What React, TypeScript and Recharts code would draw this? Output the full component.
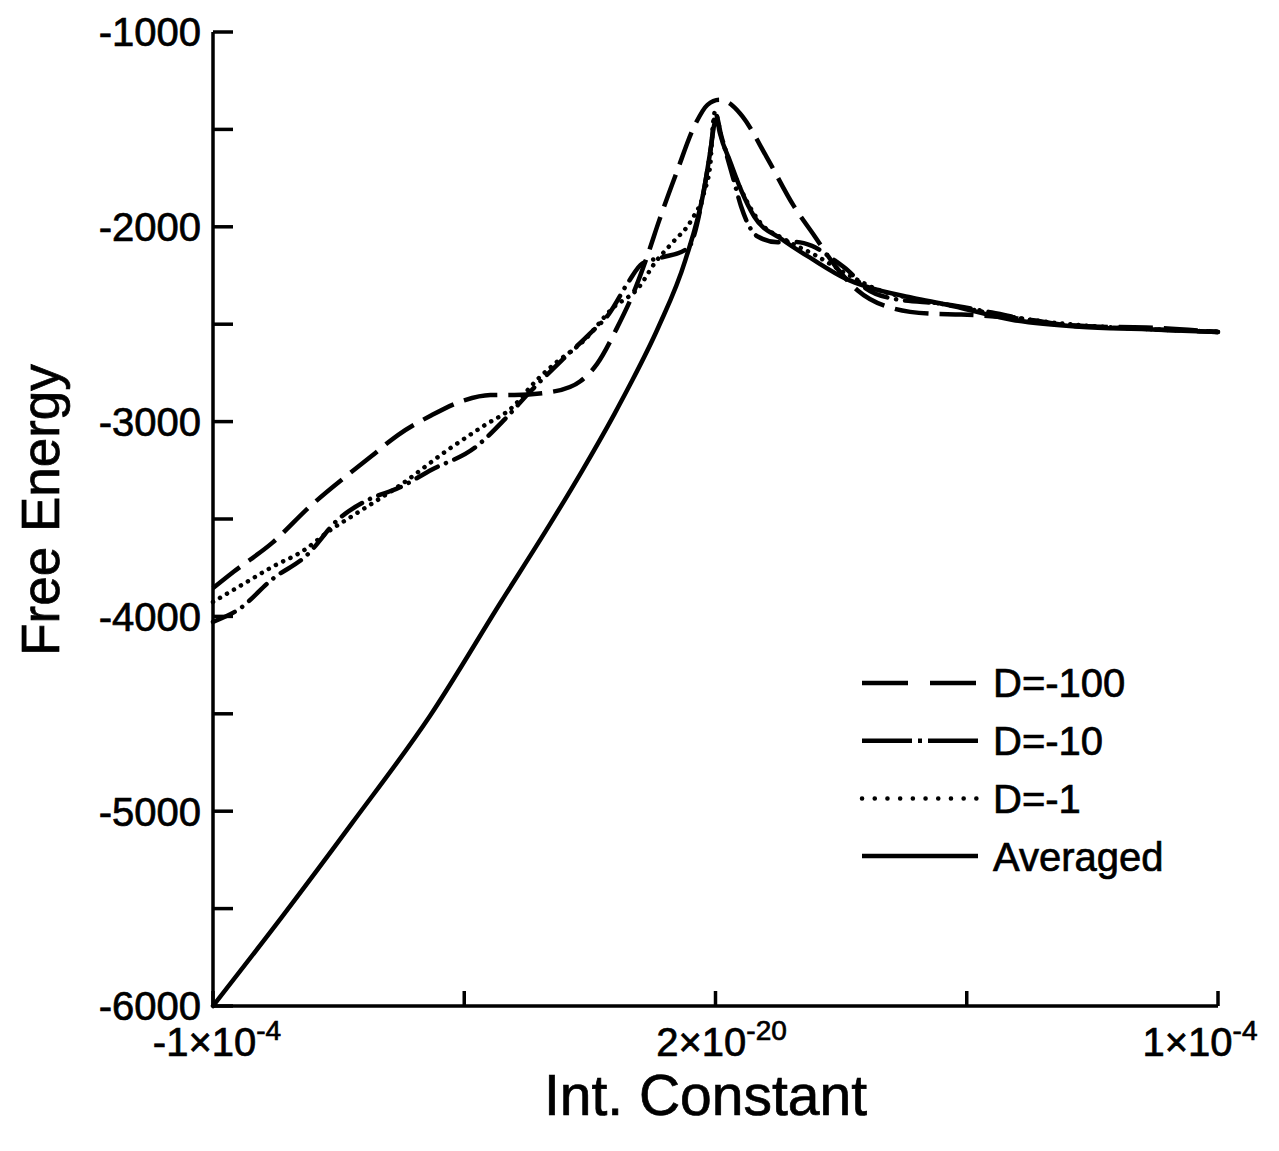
import React from 'react';
import { LineChart, Line, XAxis, YAxis, Legend, Label } from 'recharts';

// x values are in units of 1e-4 (Int. Constant)
const d100X = [-1.0, -0.959, -0.881, -0.808, -0.685, -0.632, -0.567, -0.5, -0.448, -0.4, -0.321, -0.269, -0.236, -0.197, -0.159, -0.134, -0.112, -0.078, -0.039, -0.016, 0.008, 0.034, 0.054, 0.101, 0.156, 0.197, 0.238, 0.283, 0.351, 0.429, 0.489, 0.624, 0.724, 0.857, 1.0];
const d100Y = [-3855, -3771, -3620, -3438, -3178, -3069, -2970, -2891, -2864, -2863, -2845, -2793, -2705, -2524, -2312, -2137, -1967, -1725, -1467, -1374, -1348, -1378, -1434, -1638, -1894, -2047, -2200, -2327, -2417, -2446, -2450, -2477, -2511, -2517, -2540];

const d10X = [-1.0, -0.95, -0.88, -0.815, -0.75, -0.69, -0.63, -0.565, -0.478, -0.419, -0.369, -0.302, -0.251, -0.212, -0.173, -0.146, -0.106, -0.061, -0.05, -0.023, -0.009, 0.0, 0.011, 0.036, 0.051, 0.084, 0.124, 0.158, 0.192, 0.238, 0.264, 0.299, 0.36, 0.45, 0.55, 0.65, 0.75, 0.85, 1.0];
const d10Y = [-4028, -3966, -3805, -3690, -3500, -3400, -3340, -3247, -3132, -2987, -2847, -2676, -2551, -2447, -2282, -2189, -2157, -2120, -2094, -1811, -1590, -1420, -1528, -1758, -1896, -2050, -2079, -2078, -2098, -2174, -2225, -2316, -2372, -2395, -2440, -2490, -2512, -2524, -2540];

const d1X = [-1.0, -0.945, -0.88, -0.821, -0.768, -0.715, -0.63, -0.532, -0.459, -0.408, -0.355, -0.322, -0.263, -0.204, -0.153, -0.12, -0.087, -0.048, -0.023, -0.01, -0.0055, -0.001, 0.011, 0.0356, 0.0605, 0.087, 0.138, 0.198, 0.26, 0.319, 0.393, 0.478, 0.55, 0.65, 0.75, 0.86, 1.0];
const d1Y = [-3926, -3842, -3743, -3664, -3560, -3472, -3331, -3144, -3018, -2935, -2785, -2707, -2587, -2416, -2312, -2183, -2085, -1966, -1826, -1672, -1487, -1410, -1528, -1717, -1860, -1972, -2065, -2145, -2240, -2318, -2370, -2408, -2445, -2485, -2510, -2525, -2538];

const avgX = [-1.0, -0.862, -0.724, -0.568, -0.427, -0.33, -0.266, -0.201, -0.17, -0.114, -0.06, -0.023, -0.009, -0.0016, 0.003, 0.0085, 0.03, 0.0505, 0.077, 0.132, 0.192, 0.259, 0.299, 0.393, 0.459, 0.592, 0.724, 0.857, 1.0];
const avgY = [-6000, -5540, -5064, -4510, -3926, -3529, -3255, -2960, -2810, -2517, -2171, -1811, -1590, -1467, -1455, -1517, -1671, -1809, -1947, -2064, -2165, -2266, -2306, -2365, -2399, -2478, -2513, -2526, -2540];

const xTicks = [-1, -0.5, 0, 0.5, 1];
const xTickBase = ['-1×10', '', '2×10', '', '1×10'];
const xTickExp = ['-4', '', '-20', '', '-4'];
const xTickShift = [4, 0, 6, 0, -18];
const yTicks = [-6000, -5500, -5000, -4500, -4000, -3500, -3000, -2500, -2000, -1500, -1000];

const FONT = '"Liberation Sans", Arial, Helvetica, sans-serif';

const toPts = (xs: number[], ys: number[]) => xs.map((x, i) => ({ x, y: ys[i] }));

const series = [
  { name: 'D=-100', data: toPts(d100X, d100Y), dash: '34 11', cap: 'butt', legDash: '46 22', legCap: 'butt' },
  { name: 'D=-10', data: toPts(d10X, d10Y), dash: '24 9 0.1 9', cap: 'round', legDash: '50 6 4 6 60', legCap: 'butt' },
  { name: 'D=-1', data: toPts(d1X, d1Y), dash: '0.1 8', cap: 'round', legDash: '0.1 12.6', legCap: 'round' },
  { name: 'Averaged', data: toPts(avgX, avgY), dash: undefined, cap: 'round', legDash: undefined, legCap: 'butt' },
];

const textStyle = { fontFamily: FONT, fill: '#000', stroke: '#000', strokeWidth: 0.7 };

const XTick = (props: any) => {
  const { x, y, payload } = props;
  const i = xTicks.indexOf(payload.value);
  return (
    <g>
      <line x1={x} x2={x} y1={y} y2={y - 15} stroke="#000" strokeWidth={3.5} />
      {xTickBase[i] && (
        <text x={x + xTickShift[i]} y={y + 50} textAnchor="middle" fontSize={40} style={textStyle}>
          {xTickBase[i]}
          <tspan dy={-16} fontSize={28}>{xTickExp[i]}</tspan>
        </text>
      )}
    </g>
  );
};

const YTick = (props: any) => {
  const { x, y, payload } = props;
  return (
    <g>
      <line x1={x} x2={x + 20} y1={y} y2={y} stroke="#000" strokeWidth={3.5} />
      {payload.value % 1000 === 0 && (
        <text x={x - 12} y={y} dy="0.36em" textAnchor="end" fontSize={40} style={textStyle}>
          {payload.value}
        </text>
      )}
    </g>
  );
};

const LegendBox = () => (
  <svg width={330} height={240}>
    {series.map((s, i) => {
      const cy = 35 + 57.7 * i;
      return (
        <g key={s.name}>
          <line x1={4} x2={120} y1={cy} y2={cy} stroke="#000" strokeWidth={4.5}
            strokeDasharray={s.legDash} strokeLinecap={s.legCap as any} />
          <text x={135} y={cy} dy="0.36em" fontSize={40} style={textStyle}>{s.name}</text>
        </g>
      );
    })}
  </svg>
);

export default function App() {
  return (
    <div style={{ width: 1271, height: 1143, background: '#fff' }}>
      <LineChart width={1271} height={1143} margin={{ top: 24, right: 61, bottom: 0, left: 0 }}>
        <XAxis dataKey="x" type="number" domain={[-1, 1]} ticks={xTicks} interval={0}
          height={145} tickSize={0} tickMargin={0} tick={<XTick />}
          axisLine={{ stroke: '#000', strokeWidth: 3.5 }} tickLine={false}>
          <Label content={(p: any) => {
            const vb = p.viewBox;
            return (
              <text x={vb.x + vb.width / 2 - 10} y={vb.y + 109} textAnchor="middle" fontSize={57} style={textStyle}>
                Int. Constant
              </text>
            );
          }} />
        </XAxis>
        <YAxis type="number" domain={[-6000, -1000]} ticks={yTicks} interval={0}
          width={205} tickSize={0} tickMargin={0} tick={<YTick />}
          axisLine={{ stroke: '#000', strokeWidth: 3.5 }} tickLine={false}>
          <Label content={(p: any) => {
            const vb = p.viewBox;
            const cx = 51;
            const cy = vb.y + vb.height / 2 - 9;
            return (
              <text x={cx} y={cy} transform={`rotate(-90, ${cx}, ${cy})`} textAnchor="middle" fontSize={53} style={textStyle}>
                Free Energy
              </text>
            );
          }} />
        </YAxis>
        {series.map((s) => (
          <Line key={s.name} data={s.data} dataKey="y" name={s.name} type="monotone"
            stroke="#000" strokeWidth={4.5} strokeDasharray={s.dash} strokeLinecap={s.cap as any}
            dot={false} activeDot={false} isAnimationActive={false} />
        ))}
        <Legend layout="horizontal" verticalAlign="middle" align="center" content={<LegendBox />}
          wrapperStyle={{ position: 'absolute', left: 850, top: 640, width: 330, height: 240 }} />
      </LineChart>
    </div>
  );
}
